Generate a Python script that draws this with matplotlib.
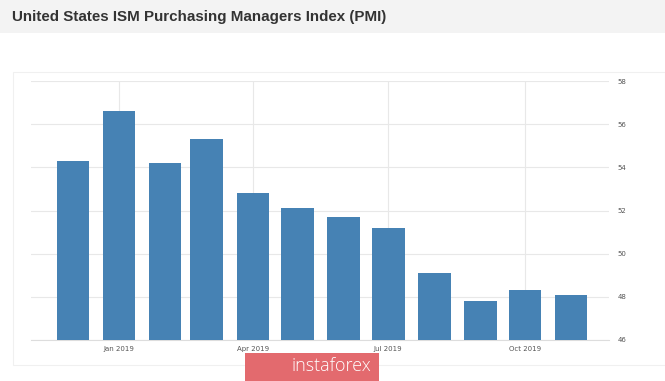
import matplotlib
matplotlib.use("Agg")
import matplotlib.pyplot as plt
import matplotlib.dates as mdates
from matplotlib.patches import Rectangle
import datetime as dt

months = ["2018-12-01", "2019-01-01", "2019-02-01", "2019-03-01", "2019-04-01", "2019-05-01",
          "2019-06-01", "2019-07-01", "2019-08-01", "2019-09-01", "2019-10-01", "2019-11-01"]
pmi = [54.3, 56.6, 54.2, 55.3, 52.8, 52.1, 51.7, 51.2, 49.1, 47.8, 48.3, 48.1]
xtick_dates = ["2019-01-01", "2019-04-01", "2019-07-01", "2019-10-01"]
xtick_labels = ["Jan 2019", "Apr 2019", "Jul 2019", "Oct 2019"]
yticks = [46, 48, 50, 52, 54, 56, 58]
title = "United States ISM Purchasing Managers Index (PMI)"

W, H = 665, 381
fig = plt.figure(figsize=(W / 100, H / 100), dpi=100)
fig.patch.set_facecolor("white")

# title band
fig.patches.append(Rectangle((0, 1 - 33 / H), 1, 33 / H, transform=fig.transFigure,
                             facecolor="#f3f3f3", edgecolor="none", zorder=0))
fig.text(12 / W, 1 - 17 / H, title, fontsize=10.9, fontweight="bold", color="#333333",
         family="Liberation Sans", va="center", ha="left")

# outer faint frame
fig.patches.append(Rectangle((13 / W, 1 - 365 / H), (W - 13) / W, (365 - 72) / H,
                             transform=fig.transFigure, facecolor="none",
                             edgecolor="#f0f0f0", linewidth=0.8, zorder=0))

ax = fig.add_axes([31 / W, 1 - 340 / H, (609 - 31) / W, (340 - 81) / H])
ax.set_facecolor("none")

x = [mdates.date2num(dt.datetime.fromisoformat(m)) for m in months]
ax.bar(x, [v - 46 for v in pmi], bottom=46, width=22, color="#4682b4", zorder=3)

x0 = mdates.date2num(dt.datetime(2019, 1, 1))
ax.set_xlim(x0 - 59.2, x0 + 329.5)
ax.set_ylim(46, 58)

ax.set_xticks([mdates.date2num(dt.datetime.fromisoformat(d)) for d in xtick_dates])
ax.set_xticklabels(xtick_labels)
ax.set_yticks(yticks)
ax.set_yticklabels([str(t) for t in yticks])
ax.yaxis.tick_right()
ax.tick_params(axis="both", length=0, labelsize=5, labelcolor="#555555")
ax.tick_params(axis="y", pad=6)
ax.tick_params(axis="x", pad=4)
ax.grid(True, color="#e8e8e8", linewidth=0.8, zorder=0)
for s in ["top", "left", "right"]:
    ax.spines[s].set_visible(False)
ax.spines["bottom"].set_color("#dddddd")
ax.spines["bottom"].set_linewidth(0.8)

# watermark
fig.patches.append(Rectangle((245 / W, 0), (379 - 245) / W, (H - 353) / H,
                             transform=fig.transFigure, facecolor="#e36a6e",
                             edgecolor="none", zorder=5))
fig.text(331 / W, 1 - 366 / H, "instaforex", fontsize=13, color="white",
         family="Open Sans", fontweight="light", va="center", ha="center", zorder=6)

fig.savefig("out.png", dpi=100)
